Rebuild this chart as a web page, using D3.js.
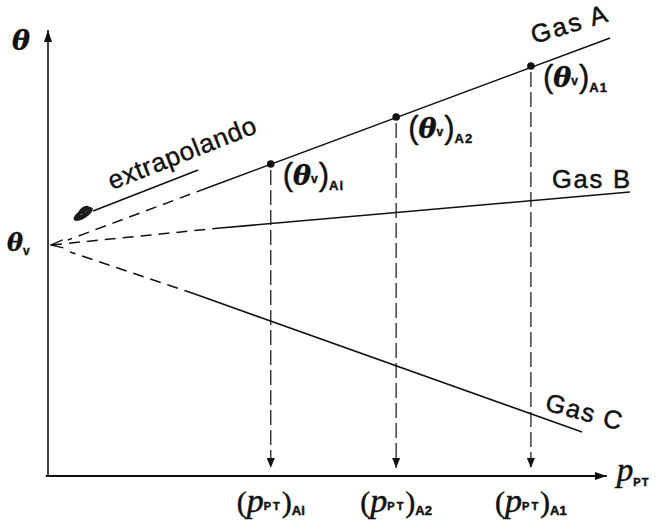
<!DOCTYPE html>
<html><head><meta charset="utf-8">
<script src="https://cdn.jsdelivr.net/npm/d3@7"></script>
<style>body{margin:0;background:#fff}</style>
</head><body>
<svg id="c" width="662" height="527"></svg>
<script>
// ---------- data ----------
const pressureCats = ["Ai", "A2", "A1"];          // (p_PT) subscripts on the x axis
const pressures    = [4.05, 6.33, 8.78];           // p_PT of the measurement points
const thetaA       = [31.2, 35.9, 41.0];           // (θv) of gas A at those pressures
const thetaCats    = ["Ai", "A2", "A1"];
const thetaV       = [0.055, 23.1];                 // extrapolated θv (p→0)
const gasNames     = ["Gas A", "Gas B", "Gas C"];
const gasA_dashed  = [[0.36, 23.6], [2.89, 28.8]];
const gasA_solid   = [[2.89, 28.8], [10.22, 43.8]];
const gasB_dashed  = [[0.055, 23.1], [3.13, 24.8]];
const gasB_solid   = [[3.13, 24.8], [10.58, 28.4]];
const gasC_dashed  = [[0.40, 22.4], [2.67, 18.2]];
const gasC_solid   = [[2.67, 18.2], [9.71, 4.4]];
const extrapLine   = [[0.82, 26.5], [2.73, 30.6]];
const arrowTheta   = 0.8;
const xAxisEnd     = 10.16;
const yAxisEnd     = 44.6;

// ---------- setup ----------
const svg = d3.select("#c");
const x = d3.scaleLinear().domain([0, 10]).range([48, 598]);
const y = d3.scaleLinear().domain([0, 45]).range([476, 26]);
const line = d3.line().x(d => x(d[0])).y(d => y(d[1]));
const SANS = "'Liberation Sans', Arial, sans-serif";
const SERIF = "'Liberation Serif', 'Times New Roman', serif";
const GREEK = "'DejaVu Serif', serif";
const INK = "#111";

const defs = svg.append("defs");
function triMarker(id, w, h) {
  defs.append("marker").attr("id", id).attr("viewBox", `0 0 ${h} ${w}`)
    .attr("refX", h).attr("refY", w / 2).attr("markerWidth", h).attr("markerHeight", w)
    .attr("markerUnits", "userSpaceOnUse").attr("orient", "auto")
    .append("path").attr("d", `M0,0 L${h},${w/2} L0,${w} Z`).attr("fill", INK);
}
triMarker("axArrow", 8, 12);
triMarker("vArrow", 8, 10);
defs.append("marker").attr("id", "openArrow").attr("viewBox", "0 0 14 10")
  .attr("refX", 1).attr("refY", 5).attr("markerWidth", 14).attr("markerHeight", 10)
  .attr("markerUnits", "userSpaceOnUse").attr("orient", "auto")
  .append("path").attr("d", "M13,1 L1,5 L13,9").attr("fill", "none")
  .attr("stroke", INK).attr("stroke-width", 1.3);

// ---------- axes ----------
svg.append("path").attr("d", line([[-0.04, 0], [xAxisEnd, 0]]))
  .attr("stroke", INK).attr("stroke-width", 1.8).attr("fill", "none")
  .attr("marker-end", "url(#axArrow)");
svg.append("path").attr("d", line([[0, 0], [0, yAxisEnd]]))
  .attr("stroke", INK).attr("stroke-width", 1.6).attr("fill", "none")
  .attr("marker-end", "url(#axArrow)");

// ---------- vertical dashed drop lines ----------
pressures.forEach((p, i) => {
  svg.append("path").attr("d", line([[p, thetaA[i] - 0.6], [p, arrowTheta]]))
    .attr("stroke", "#222").attr("stroke-width", 1.3).attr("fill", "none")
    .attr("stroke-dasharray", "15,5").attr("marker-end", "url(#vArrow)");
});

// ---------- gas lines ----------
const solids = [gasA_solid, gasB_solid, gasC_solid];
const dashes = [gasA_dashed, gasB_dashed, gasC_dashed];
solids.forEach(s => svg.append("path").attr("d", line(s))
  .attr("stroke", INK).attr("stroke-width", 1.6).attr("fill", "none"));
dashes.forEach((s, i) => {
  const pth = svg.append("path").attr("d", line(i === 1 ? s : s.slice().reverse()))
    .attr("stroke", INK).attr("stroke-width", 1.5).attr("fill", "none")
    .attr("stroke-dasharray", "11,7");
  if (i === 1) pth.attr("marker-start", "url(#openArrow)");
});

// extrapolation annotation line + scribbled blob
svg.append("path").attr("d", line(extrapLine))
  .attr("stroke", INK).attr("stroke-width", 1.6).attr("fill", "none");
const b0 = extrapLine[0];
const blob = svg.append("g")
  .attr("transform", `translate(${x(b0[0]) - 10},${y(b0[1]) + 3}) rotate(-32)`);
blob.append("ellipse").attr("rx", 11).attr("ry", 4.5).attr("fill", "#1a1a1a");
blob.append("ellipse").attr("cx", 3).attr("cy", -3).attr("rx", 6).attr("ry", 3).attr("fill", "#1a1a1a");
blob.append("path").attr("d", "M-3,-1 l3,1 M3,0 l2,-1").attr("stroke", "#777").attr("stroke-width", 0.8);

// points
svg.selectAll("circle.pt").data(pressures).join("circle").attr("class", "pt")
  .attr("cx", d => x(d)).attr("cy", (d, i) => y(thetaA[i])).attr("r", 3.8).attr("fill", INK);

// ---------- text ----------
function heavy(sel, w) { return sel.attr("fill", INK).attr("stroke", INK).attr("stroke-width", w).attr("paint-order", "stroke"); }

// axis labels
const tl = heavy(svg.append("text").attr("x", 12).attr("y", y(yAxisEnd) + 20), 0.3);
tl.append("tspan").attr("font-family", GREEK).attr("font-style", "italic").attr("font-weight", "bold").attr("font-size", 27).text("θ");

const tv = heavy(svg.append("text").attr("x", 7).attr("y", y(thetaV[1]) + 6), 0.3);
tv.append("tspan").attr("font-family", GREEK).attr("font-style", "italic").attr("font-weight", "bold").attr("font-size", 24).text("θ");
tv.append("tspan").attr("font-family", SANS).attr("font-weight", "bold").attr("font-size", 12).attr("dy", 4).text("v");

const px = heavy(svg.append("text").attr("x", x(xAxisEnd) + 10).attr("y", y(0) + 5), 0.5);
px.append("tspan").attr("font-family", SERIF).attr("font-style", "italic").attr("font-size", 33).text("p");
px.append("tspan").attr("font-family", SANS).attr("font-weight", "bold").attr("font-size", 11).attr("dy", 5).attr("letter-spacing", 1).text("PT");

// category labels under the axis
pressures.forEach((p, i) => {
  const t = heavy(svg.append("text").attr("x", x(p)).attr("y", y(0) + 36).attr("text-anchor", "middle"), 0.5);
  t.append("tspan").attr("font-family", SERIF).attr("font-size", 30).text("(");
  t.append("tspan").attr("font-family", SERIF).attr("font-style", "italic").attr("font-size", 34).text("p");
  t.append("tspan").attr("font-family", SANS).attr("font-weight", "bold").attr("font-size", 11).attr("dy", -2).attr("letter-spacing", 2).text("PT");
  t.append("tspan").attr("font-family", SERIF).attr("font-size", 30).attr("dy", 2).text(")");
  t.append("tspan").attr("font-family", SANS).attr("font-weight", "bold").attr("font-size", 13).attr("dy", 3).text(pressureCats[i]);
});

// theta labels at the points
pressures.forEach((p, i) => {
  const t = heavy(svg.append("text").attr("x", x(p) + 12).attr("y", y(thetaA[i]) + 21), 0.4);
  t.append("tspan").attr("font-family", SANS).attr("font-size", 31).text("(");
  t.append("tspan").attr("font-family", GREEK).attr("font-style", "italic").attr("font-weight", "bold").attr("font-size", 27).text("θ");
  t.append("tspan").attr("font-family", SANS).attr("font-weight", "bold").attr("font-size", 12).attr("dy", -2).text("v");
  t.append("tspan").attr("font-family", SANS).attr("font-size", 31).attr("dx", 1).attr("dy", 2).text(")");
  t.append("tspan").attr("font-family", SANS).attr("font-weight", "bold").attr("font-size", 13).attr("dy", 5).attr("letter-spacing", 1).text(thetaCats[i]);
});

// gas labels
const ends = [gasA_solid[1], gasB_solid[1], gasC_solid[1]];
const labelOff = [[-76, 6, -17], [-78, -4, 0], [-38, -22, 15]];
gasNames.forEach((g, i) => {
  const e = ends[i], o = labelOff[i];
  heavy(svg.append("text")
    .attr("transform", `translate(${x(e[0]) + o[0]},${y(e[1]) + o[1]}) rotate(${o[2]})`)
    .attr("font-family", SANS).attr("font-size", 25.5)
    .attr("textLength", 78).attr("lengthAdjust", "spacing"), 0.5).text(g);
});

// extrapolando
const e0 = extrapLine[0];
heavy(svg.append("text")
  .attr("transform", `translate(${x(e0[0]) + 19},${y(e0[1]) - 21}) rotate(-21.5)`)
  .attr("font-family", SANS).attr("font-size", 26)
  .attr("textLength", 157).attr("lengthAdjust", "spacing"), 0.4).text("extrapolando");
</script>
</body></html>
